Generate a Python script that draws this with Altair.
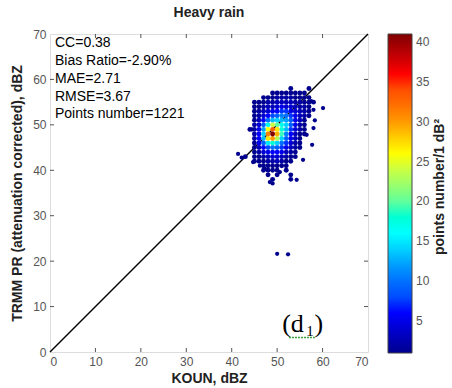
import altair as alt
import pandas as pd

# Density of matched reflectivity pairs, points per 1 dB x 1 dB cell
x_bins = list(range(43, 60))            # KOUN bin centres, dBZ
y_bins = list(range(58, 37, -1))        # TRMM PR bin centres, dBZ (58 .. 38)
density_rows = [
    [0, 0, 0, 0, 0, 0, 0, 0, 0, 0, 1, 0, 0, 0, 1, 0, 0],          # 58
    [0, 0, 0, 0, 0, 0, 1, 1, 1, 1, 1, 1, 1, 1, 0, 0, 0],          # 57
    [0, 0, 0, 0, 1, 1, 1, 2, 2, 2, 2, 1, 1, 1, 1, 0, 0],          # 56
    [0, 0, 1, 1, 1, 2, 2, 3, 3, 3, 3, 2, 2, 1, 1, 1, 0],          # 55
    [0, 0, 1, 1, 2, 3, 3, 4, 5, 4, 4, 3, 2, 2, 1, 0, 0],          # 54
    [0, 0, 1, 2, 3, 4, 5, 6, 7, 7, 5, 4, 3, 2, 1, 0, 0],          # 53
    [0, 0, 1, 2, 4, 6, 8, 9, 11, 10, 7, 5, 3, 2, 1, 0, 0],        # 52
    [0, 0, 1, 3, 6, 10, 13, 14, 13, 12, 9, 5, 3, 1, 0, 0, 0],     # 51
    [0, 0, 2, 4, 9, 17, 24, 20, 17, 14, 9, 5, 2, 1, 0, 0, 0],     # 50
    [0, 1, 2, 5, 12, 26, 33, 27, 18, 13, 7, 4, 2, 1, 0, 0, 0],    # 49
    [0, 0, 2, 6, 14, 31, 41, 29, 19, 11, 6, 3, 1, 1, 0, 0, 0],    # 48
    [0, 0, 2, 6, 13, 27, 30, 23, 14, 9, 5, 3, 1, 0, 0, 0, 0],     # 47
    [0, 0, 1, 5, 9, 15, 18, 14, 10, 7, 4, 2, 1, 0, 0, 0, 0],      # 46
    [0, 0, 1, 3, 6, 8, 10, 9, 7, 5, 3, 2, 1, 0, 0, 0, 0],         # 45
    [0, 0, 1, 2, 4, 5, 6, 6, 5, 3, 2, 1, 0, 0, 0, 0, 0],          # 44
    [1, 0, 1, 1, 2, 3, 4, 4, 3, 2, 1, 1, 0, 0, 0, 0, 0],          # 43
    [0, 0, 1, 1, 1, 2, 2, 3, 2, 1, 1, 0, 0, 0, 0, 0, 0],          # 42
    [0, 0, 0, 0, 1, 1, 1, 1, 1, 1, 0, 0, 0, 0, 0, 0, 0],          # 41
    [0, 0, 0, 0, 1, 1, 1, 1, 0, 1, 0, 0, 0, 0, 0, 0, 0],          # 40
    [0, 0, 0, 0, 0, 1, 0, 1, 0, 0, 1, 0, 0, 0, 0, 0, 0],          # 39
    [0, 0, 0, 0, 0, 0, 1, 0, 0, 0, 1, 0, 0, 0, 0, 0, 0],          # 38
]

# Isolated pairs away from the main cluster
outlier_koun = [41.4, 42.2, 44.4, 44.7, 46.2, 47.3, 48.4, 49.0, 50.6, 54.3,
                55.7, 57.7, 56.5, 58.0, 58.3, 58.0, 60.1, 57.5, 50.0, 52.4]
outlier_pr = [43.6, 42.8, 49.0, 41.8, 41.0, 40.3, 37.4, 37.1, 39.6, 37.9,
              42.3, 45.6, 47.8, 49.3, 51.0, 53.3, 53.7, 55.2, 21.6, 21.5]

stat_lines = ["CC=0.38", "Bias Ratio=-2.90%", "MAE=2.71", "RMSE=3.67",
              "Points number=1221"]
stat_y = [68.0, 64.1, 60.2, 56.2, 52.4]

tick_values = [10, 20, 30, 40, 50, 60]
axis_values = [0, 10, 20, 30, 40, 50, 60, 70]
cbar_values = [5, 10, 15, 20, 25, 30, 35, 40]
jet = ["#00008F", "#0000FF", "#0080FF", "#00FFFF", "#80FF80",
       "#FFFF00", "#FF8000", "#FF0000", "#800000"]

cells = []
for yv, row in zip(y_bins, density_rows):
    for xv, c in zip(x_bins, row):
        if c > 0:
            cells.append({"koun": xv, "pr": yv, "count": c})
cells_df = pd.DataFrame(cells)
outliers_df = pd.DataFrame({"koun": outlier_koun, "pr": outlier_pr,
                            "count": [1] * len(outlier_koun)})
diag_df = pd.DataFrame({"koun": [0, 70], "pr": [0, 70]})
ticks_df = pd.DataFrame({"t": tick_values})
stats_df = pd.DataFrame({"label": stat_lines, "y": stat_y, "x": [1.1] * 5})

FONT = "Liberation Sans"
xs = alt.Scale(domain=[0, 70], nice=False, zero=False)
ys = alt.Scale(domain=[0, 70], nice=False, zero=False)

x_axis = alt.Axis(values=axis_values, grid=False, ticks=False, domain=False,
                  labelColor="#555555", labelFontSize=12, labelFont=FONT,
                  labelPadding=4, title="KOUN, dBZ", titleFont=FONT,
                  titleFontSize=14, titleFontWeight="bold", titleColor="#222222",
                  titlePadding=4)
y_axis = alt.Axis(values=axis_values, grid=False, ticks=False, domain=False,
                  labelColor="#555555", labelFontSize=12, labelFont=FONT,
                  labelPadding=4, title="TRMM PR (attenuation corrected), dBZ",
                  titleFont=FONT, titleFontSize=14, titleFontWeight="bold",
                  titleColor="#222222", titlePadding=8)

color_enc = alt.Color(
    "count:Q",
    scale=alt.Scale(domain=[1, 41], range=jet),
    legend=alt.Legend(orient="none", legendX=338, legendY=0, direction="vertical",
                      gradientLength=319, gradientThickness=24,
                      gradientStrokeColor="#444444", gradientStrokeWidth=1,
                      values=cbar_values, labelFontSize=12, labelFont=FONT,
                      labelColor="#555555", labelOffset=4, title=""),
)

diag = alt.Chart(diag_df).mark_line(color="black", strokeWidth=1.5).encode(
    x=alt.X("koun:Q", scale=xs, axis=x_axis),
    y=alt.Y("pr:Q", scale=ys, axis=y_axis),
)

tick_style = dict(color="#555555", strokeWidth=1)
ticks_bottom = alt.Chart(ticks_df).mark_rule(**tick_style).encode(
    x=alt.X("t:Q", scale=xs), y=alt.value(318), y2=alt.value(314))
ticks_top = alt.Chart(ticks_df).mark_rule(**tick_style).encode(
    x=alt.X("t:Q", scale=xs), y=alt.value(0), y2=alt.value(4))
ticks_left = alt.Chart(ticks_df).mark_rule(**tick_style).encode(
    y=alt.Y("t:Q", scale=ys), x=alt.value(0), x2=alt.value(4))
ticks_right = alt.Chart(ticks_df).mark_rule(**tick_style).encode(
    y=alt.Y("t:Q", scale=ys), x=alt.value(318), x2=alt.value(314))

density = alt.Chart(cells_df).mark_circle(size=24, opacity=1).encode(
    x=alt.X("koun:Q", scale=xs),
    y=alt.Y("pr:Q", scale=ys),
    color=color_enc,
    order=alt.Order("count:Q", sort="ascending"),
)

outliers = alt.Chart(outliers_df).mark_circle(size=18, opacity=1).encode(
    x=alt.X("koun:Q", scale=xs),
    y=alt.Y("pr:Q", scale=ys),
    color=color_enc,
)

stats = alt.Chart(stats_df).mark_text(
    align="left", baseline="middle", font=FONT, fontSize=14, color="black"
).encode(x=alt.X("x:Q", scale=xs), y=alt.Y("y:Q", scale=ys), text="label:N")

cbar_title = alt.Chart(pd.DataFrame({"t": ["points number/1 dB²"]})).mark_text(
    angle=270, font=FONT, fontSize=14, fontWeight="bold", color="#222222",
    align="center", baseline="middle"
).encode(x=alt.value(390), y=alt.value(153), text="t:N")

serif = "Liberation Serif"
panel_df = pd.DataFrame({"x": [51.1, 56.4, 58.2], "y": [4.4, 3.5, 4.4],
                         "t": ["(d", "1", ")"], "s": [26, 15, 26]})
panel = alt.Chart(panel_df).mark_text(
    align="left", baseline="alphabetic", font=serif, color="black"
).encode(x=alt.X("x:Q", scale=xs), y=alt.Y("y:Q", scale=ys), text="t:N",
         size=alt.Size("s:Q", scale=None, legend=None))

squiggle = alt.Chart(pd.DataFrame({"a": [52.6], "b": [58.3], "y": [3.2]})).mark_rule(
    color="#3f9f3f", strokeWidth=1.5, strokeDash=[2, 1]
).encode(x=alt.X("a:Q", scale=xs), x2="b:Q", y=alt.Y("y:Q", scale=ys))

chart = alt.layer(
    diag, ticks_bottom, ticks_top, ticks_left, ticks_right,
    density, outliers, stats, cbar_title, panel, squiggle,
).properties(
    width=318, height=318,
    title=alt.TitleParams("Heavy rain", font=FONT, fontSize=14,
                          fontWeight="bold", color="#222222", offset=8),
    autosize=alt.AutoSizeParams(type="none"),
    padding={"left": 50, "top": 34, "right": 84, "bottom": 36},
).configure_view(stroke="#555555", strokeWidth=1).configure(background="white")

chart.save("out.html", embed_options={"renderer": "svg", "actions": False})
